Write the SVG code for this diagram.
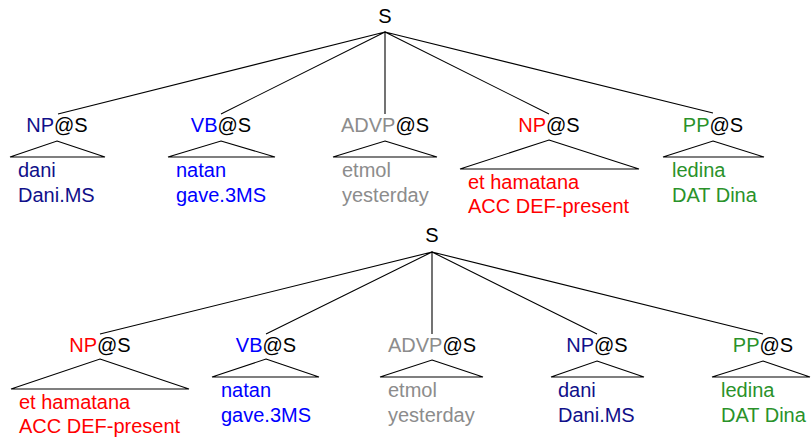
<svg xmlns="http://www.w3.org/2000/svg" width="811" height="437" viewBox="0 0 811 437">
<style>
text{font-family:"Liberation Sans",Arial,sans-serif;font-size:20px;fill:#000}
.lbl{text-anchor:middle}
.e{stroke:#000;stroke-width:1.1;fill:none}
.tri{stroke:#000;stroke-width:1.1;fill:none}
.navy{fill:#10108a}
.blue{fill:#0000ff}
.gray{fill:#8c8c8c}
.red{fill:#ff0000}
.green{fill:#2a922a}
</style>
<rect width="811" height="437" fill="#fff"/>
<g id="connectors">
<path class="e" d="M385 32L58 114M385 32L221 114M385 32L385 114M385 32L549 114M385 32L713 113"/>
<path class="e" d="M432 252L100 334M432 252L266 334M432 252L432 334M432 252L597 334M432 252L763 334"/>
</g>
<g id="s1"><text class="lbl" x="385" y="23">S</text></g>
<g id="t1-np">
<text class="lbl" x="57" y="132"><tspan class="navy">NP</tspan>@S</text>
<path class="tri" d="M57 141L105 157L10 157Z"/>
<text class="navy" x="18" y="177">dani</text><text class="navy" x="18" y="202">Dani.MS</text>
</g>
<g id="t1-vb">
<text class="lbl" x="221" y="132"><tspan class="blue">VB</tspan>@S</text>
<path class="tri" d="M221 141L275 157L168 157Z"/>
<text class="blue" x="176" y="177">natan</text><text class="blue" x="176" y="202">gave.3MS</text>
</g>
<g id="t1-advp">
<text class="lbl" x="385" y="132"><tspan class="gray">ADVP</tspan>@S</text>
<path class="tri" d="M385 141L437 157L333 157Z"/>
<text class="gray" x="342" y="177">etmol</text><text class="gray" x="342" y="202">yesterday</text>
</g>
<g id="t1-np2">
<text class="lbl" x="549" y="132"><tspan class="red">NP</tspan>@S</text>
<path class="tri" d="M549 140L639 169L460 169Z"/>
<text class="red" x="468" y="189">et hamatana</text><text class="red" x="468" y="213">ACC DEF-present</text>
</g>
<g id="t1-pp">
<text class="lbl" x="713" y="132"><tspan class="green">PP</tspan>@S</text>
<path class="tri" d="M713 141L764 157L663 157Z"/>
<text class="green" x="672" y="177">ledina</text><text class="green" x="672" y="202">DAT Dina</text>
</g>
<g id="s2"><text class="lbl" x="432" y="242">S</text></g>
<g id="t2-np">
<text class="lbl" x="100" y="352"><tspan class="red">NP</tspan>@S</text>
<path class="tri" d="M100 359L189 389L11 389Z"/>
<text class="red" x="19" y="409">et hamatana</text><text class="red" x="19" y="433">ACC DEF-present</text>
</g>
<g id="t2-vb">
<text class="lbl" x="266" y="352"><tspan class="blue">VB</tspan>@S</text>
<path class="tri" d="M266 359L319 377L212 377Z"/>
<text class="blue" x="221" y="397">natan</text><text class="blue" x="221" y="422">gave.3MS</text>
</g>
<g id="t2-advp">
<text class="lbl" x="432" y="352"><tspan class="gray">ADVP</tspan>@S</text>
<path class="tri" d="M432 360L483 377L380 377Z"/>
<text class="gray" x="388" y="397">etmol</text><text class="gray" x="388" y="422">yesterday</text>
</g>
<g id="t2-np2">
<text class="lbl" x="597" y="352"><tspan class="navy">NP</tspan>@S</text>
<path class="tri" d="M597 361L644 377L551 377Z"/>
<text class="navy" x="558" y="397">dani</text><text class="navy" x="558" y="422">Dani.MS</text>
</g>
<g id="t2-pp">
<text class="lbl" x="763" y="352"><tspan class="green">PP</tspan>@S</text>
<path class="tri" d="M763 361L810 377L712 377Z"/>
<text class="green" x="721" y="397">ledina</text><text class="green" x="721" y="422">DAT Dina</text>
</g>
</svg>
